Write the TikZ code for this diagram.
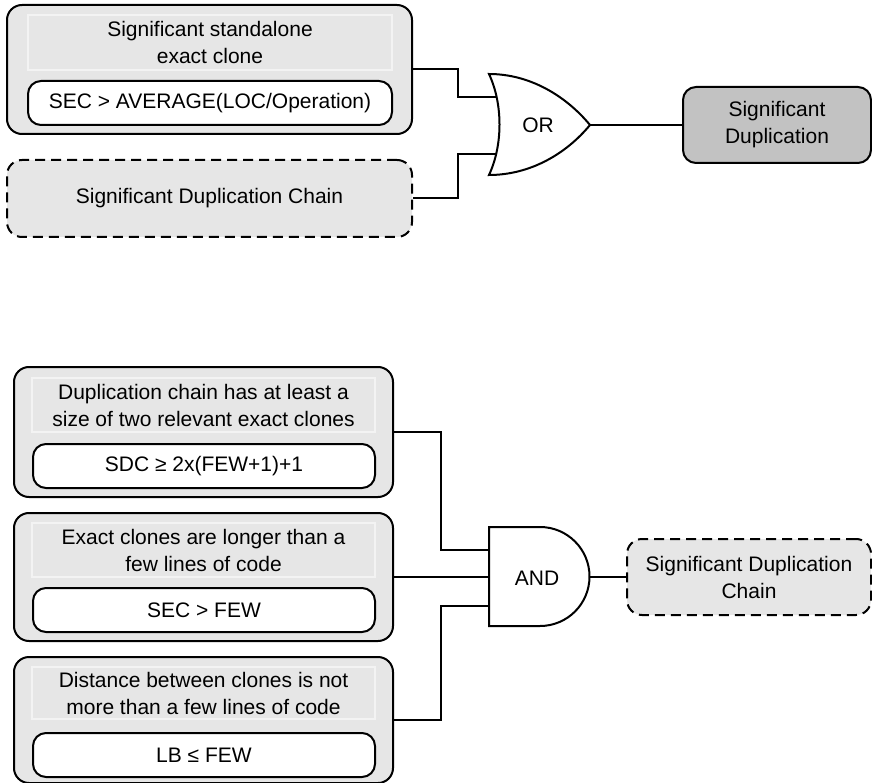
\documentclass[tikz,border=0pt]{standalone}
\usepackage{fontspec}
\setmainfont{Liberation Sans}
\definecolor{boxgray}{HTML}{E6E6E6}
\definecolor{resultgray}{HTML}{C2C2C2}
\definecolor{titleedge}{HTML}{F3F3F3}
\begin{document}
\begin{tikzpicture}[x=1pt,y=-1pt,
  every node/.style={font=\fontsize{21}{27}\selectfont, inner sep=0pt, align=center},
  wire/.style={line width=2pt, line join=miter},
  condbox/.style={draw=black, line width=2pt, fill=boxgray, rounded corners=15pt},
  titlebox/.style={draw=titleedge, line width=1.5pt, fill=boxgray},
  rulebox/.style={draw=black, line width=2pt, fill=white, rounded corners=13pt},
  refbox/.style={draw=black, line width=2pt, fill=boxgray, rounded corners=15pt, dash pattern=on 10pt off 6pt},
  resultbox/.style={draw=black, line width=2pt, fill=resultgray, rounded corners=13pt},
  gate/.style={draw=black, line width=2pt, fill=white, line join=miter},
]
\useasboundingbox (0,0) rectangle (872,783);

% ---------- Significant duplication: OR of two conditions ----------
\node[condbox, minimum width=405pt, minimum height=129pt] (sec) at (209.5,69.5) {};
\node[titlebox, minimum width=364pt, minimum height=55pt] (sectitle) at (210,42.5)
  {Significant standalone\\exact clone};
\node[rulebox, minimum width=364pt, minimum height=44pt] (secrule) at (210,103)
  {SEC > AVERAGE(LOC/Operation)};

\node[refbox, minimum width=405pt, minimum height=77pt] (sdcref) at (209.5,198.5)
  {Significant Duplication Chain};

% OR gate
\draw[gate] (489,74) .. controls (530,74) and (566,96) .. (590,125)
  .. controls (566,154) and (530,175) .. (489,175)
  .. controls (503,145) and (503,104) .. cycle;
\node (orlabel) at (538,125) {OR};
\coordinate (orin1) at (496,97);
\coordinate (orin2) at (496,154);
\coordinate (orout) at (590,125);

\node[resultbox, minimum width=188pt, minimum height=76pt] (sigdup) at (777,125)
  {Significant\\Duplication};

\draw[wire] (sec.east) -- ++(45,0) |- (orin1);
\draw[wire] (sdcref.east) -- ++(45,0) |- (orin2);
\draw[wire] (orout) -- (sigdup.west);

% ---------- Significant duplication chain: AND of three conditions ----------
\node[condbox, minimum width=379pt, minimum height=130pt] (chain) at (203.5,432) {};
\node[titlebox, minimum width=343pt, minimum height=54pt] (chaintitle) at (203.5,405)
  {Duplication chain has at least a\\size of two relevant exact clones};
\node[rulebox, minimum width=342pt, minimum height=44pt] (chainrule) at (204,466)
  {SDC \char"2265{} 2x(FEW+1)+1};

\node[condbox, minimum width=379pt, minimum height=128pt] (len) at (203.5,577) {};
\node[titlebox, minimum width=343pt, minimum height=54pt] (lentitle) at (203.5,550)
  {Exact clones are longer than a\\few lines of code};
\node[rulebox, minimum width=342pt, minimum height=44pt] (lenrule) at (204,610)
  {SEC > FEW};

\node[condbox, minimum width=379pt, minimum height=126pt] (dist) at (203.5,720) {};
\node[titlebox, minimum width=343pt, minimum height=52pt] (disttitle) at (203.5,693)
  {Distance between clones is not\\more than a few lines of code};
\node[rulebox, minimum width=342pt, minimum height=44pt] (distrule) at (204,755)
  {LB \char"2264{} FEW};

% AND gate (flat back, round front)
\draw[gate] (489,527) -- (540,527) arc[start angle=-90, end angle=90, radius=49.5]
  -- (489,626) -- cycle;
\node (andlabel) at (537,578) {AND};
\coordinate (andin1) at (489,550);
\coordinate (andin2) at (489,577);
\coordinate (andin3) at (489,606);
\coordinate (andout) at (589.5,577);

\node[refbox, minimum width=244pt, minimum height=76pt] (sdc) at (749,577)
  {Significant Duplication\\Chain};

\draw[wire] (chain.east) -- ++(47,0) |- (andin1);
\draw[wire] (len.east) -- (andin2);
\draw[wire] (dist.east) -- ++(47,0) |- (andin3);
\draw[wire] (andout) -- (sdc.west);
\end{tikzpicture}
\end{document}
